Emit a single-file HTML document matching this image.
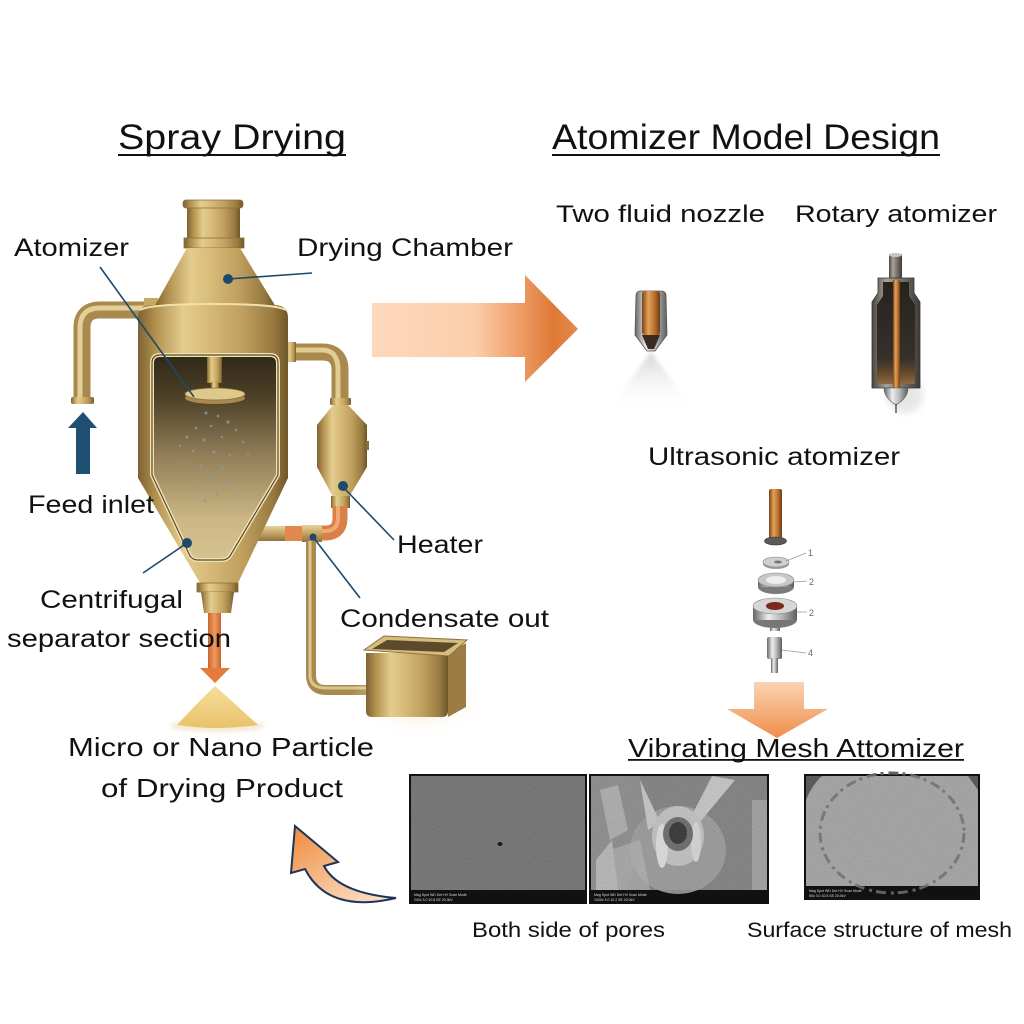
<!DOCTYPE html>
<html><head><meta charset="utf-8"><style>
html,body{margin:0;padding:0;background:#fff}
svg{display:block}
text{font-family:"Liberation Sans",sans-serif;fill:#111}
</style></head><body>
<svg width="1024" height="1024" viewBox="0 0 1024 1024" xmlns="http://www.w3.org/2000/svg">
<defs>
<linearGradient id="brass" x1="0" x2="1" y1="0" y2="0">
<stop offset="0" stop-color="#7d6232"/><stop offset=".12" stop-color="#b3924f"/><stop offset=".3" stop-color="#e3cc8e"/><stop offset=".45" stop-color="#d9bd7a"/><stop offset=".7" stop-color="#bf9f5e"/><stop offset=".9" stop-color="#987a40"/><stop offset="1" stop-color="#6e5628"/>
</linearGradient>
<linearGradient id="brassV" x1="0" x2="0" y1="0" y2="1">
<stop offset="0" stop-color="#e6d29a"/><stop offset=".5" stop-color="#c4a462"/><stop offset="1" stop-color="#8e7240"/>
</linearGradient>
<linearGradient id="win" x1="0" x2="0" y1="0" y2="1">
<stop offset="0" stop-color="#2f2818"/><stop offset=".2" stop-color="#4c3f26"/><stop offset=".5" stop-color="#94805a"/><stop offset=".8" stop-color="#cbb684"/><stop offset="1" stop-color="#d7c390"/>
</linearGradient>
<linearGradient id="bigArrow" x1="0" x2="1" y1="0" y2="0">
<stop offset="0" stop-color="#fdd8bd"/><stop offset=".5" stop-color="#fcceaa"/><stop offset=".62" stop-color="#f5b285"/><stop offset=".88" stop-color="#df7a36"/><stop offset="1" stop-color="#e68a4c"/>
</linearGradient>
<linearGradient id="downArrow" x1="0" x2="0" y1="0" y2="1">
<stop offset="0" stop-color="#fbd3b3"/><stop offset="1" stop-color="#f08e4a"/>
</linearGradient>
<linearGradient id="curveArrow" x1="0" x2="1" y1="0" y2="1">
<stop offset="0" stop-color="#ee8a3c"/><stop offset=".6" stop-color="#f8c49a"/><stop offset="1" stop-color="#fde4cf"/>
</linearGradient>
<linearGradient id="orangeDown" x1="0" x2="1" y1="0" y2="0">
<stop offset="0" stop-color="#c8652e"/><stop offset=".5" stop-color="#ee9a60"/><stop offset="1" stop-color="#c8652e"/>
</linearGradient>
<linearGradient id="copper" x1="0" x2="1" y1="0" y2="0">
<stop offset="0" stop-color="#7a4218"/><stop offset=".35" stop-color="#e3a25a"/><stop offset=".7" stop-color="#b8702e"/><stop offset="1" stop-color="#6e3a14"/>
</linearGradient>
<linearGradient id="metal" x1="0" x2="1" y1="0" y2="0">
<stop offset="0" stop-color="#666"/><stop offset=".35" stop-color="#eee"/><stop offset=".65" stop-color="#b5b5b5"/><stop offset="1" stop-color="#5e5e5e"/>
</linearGradient>
<linearGradient id="darkMetal" x1="0" x2="1" y1="0" y2="0">
<stop offset="0" stop-color="#4a4540"/><stop offset=".3" stop-color="#a9a39a"/><stop offset=".7" stop-color="#6b6660"/><stop offset="1" stop-color="#3e3a36"/>
</linearGradient>
<linearGradient id="cavity" x1="0" x2="0" y1="0" y2="1">
<stop offset="0" stop-color="#26221e"/><stop offset=".75" stop-color="#35302b"/><stop offset=".9" stop-color="#6a4a2a"/><stop offset="1" stop-color="#8a6a48"/>
</linearGradient>
<linearGradient id="mist" x1="0" x2="0" y1="0" y2="1">
<stop offset="0" stop-color="#cfcfcf" stop-opacity=".9"/><stop offset="1" stop-color="#ffffff" stop-opacity="0"/>
</linearGradient>
<linearGradient id="powder" x1="0" x2="0" y1="0" y2="1">
<stop offset="0" stop-color="#f6df9c"/><stop offset="1" stop-color="#e8c26a"/>
</linearGradient>
<radialGradient id="glow" cx=".5" cy=".5" r=".5">
<stop offset="0" stop-color="#f6dfbd" stop-opacity=".9"/><stop offset="1" stop-color="#ffffff" stop-opacity="0"/>
</radialGradient>
<filter id="grain" x="0" y="0" width="100%" height="100%">
<feTurbulence type="fractalNoise" baseFrequency="0.8" numOctaves="2" seed="4"/>
<feColorMatrix type="matrix" values="0.33 0.33 0.33 0 0  0.33 0.33 0.33 0 0  0.33 0.33 0.33 0 0  0 0 0 0 0.25"/>
</filter>
<filter id="blur2"><feGaussianBlur stdDeviation="2"/></filter>
<filter id="blur4"><feGaussianBlur stdDeviation="4"/></filter>
</defs>

<!-- Titles -->
<text x="118" y="149" font-size="35" textLength="228" lengthAdjust="spacingAndGlyphs">Spray Drying</text>
<rect x="118" y="154" width="228" height="2" fill="#111"/>
<text x="552" y="149" font-size="35" textLength="388" lengthAdjust="spacingAndGlyphs">Atomizer Model Design</text>
<rect x="552" y="154" width="388" height="2" fill="#111"/>

<!-- ============ DRYER ============ -->
<path d="M150,310 L100,310 Q82,310 82,328 L82,399" fill="none" stroke="#a88a4e" stroke-width="17"/>
<path d="M150,308 L100,308 Q80,308 80,328 L80,399" fill="none" stroke="#e4cf96" stroke-width="5"/>
<rect x="71" y="397" width="23" height="7" rx="2" fill="url(#brass)"/>
<rect x="144" y="298" width="14" height="9" fill="#c8a964"/>
<path d="M285,352 L322,352 Q340,352 340,370 L340,400" fill="none" stroke="#a88a4e" stroke-width="17"/>
<path d="M285,350 L322,350 Q338,350 338,370 L338,400" fill="none" stroke="#e2cc92" stroke-width="5"/>
<rect x="286" y="342" width="10" height="20" fill="url(#brass)"/>
<rect x="330" y="398" width="21" height="7" rx="1" fill="url(#brass)"/>

<!-- heater -->
<path d="M333,405 L348,405 L367,425 L317,425 Z" fill="url(#brass)"/>
<rect x="317" y="425" width="50" height="42" fill="url(#brass)"/>
<path d="M317,467 L367,467 L349,497 L333,497 Z" fill="url(#brass)"/>
<rect x="366" y="441" width="3" height="9" fill="#8a6e3a"/>
<rect x="331" y="496" width="19" height="12" fill="url(#brass)"/>
<path d="M340,506 L340,518 Q340,533 325,533 L318,533" fill="none" stroke="#d98048" stroke-width="15"/>
<path d="M338,506 L338,518 Q338,531 325,531 L318,531" fill="none" stroke="#f0a874" stroke-width="4"/>
<rect x="258" y="526" width="28" height="15" fill="url(#brassV)"/>
<rect x="285" y="526" width="17" height="15" fill="#e0884e"/>
<rect x="302" y="525" width="20" height="17" fill="url(#brassV)"/>
<path d="M311,541 L311,675 Q311,690 326,690 L368,690" fill="none" stroke="#a88a4e" stroke-width="10"/>
<path d="M310,541 L310,675 Q310,688 326,688 L368,688" fill="none" stroke="#dcc58a" stroke-width="3"/>

<!-- box -->
<ellipse cx="420" cy="700" rx="70" ry="40" fill="url(#glow)"/>
<path d="M448,653 L466,643 L466,707 L448,717 Z" fill="#9a7c44"/>
<path d="M366,653 L448,653 L448,711 Q448,717 442,717 L372,717 Q366,717 366,711 Z" fill="url(#brass)"/>
<path d="M364,650 L384,636 L467,640 L449,656 Z" fill="#d7bd7c" stroke="#8e7040" stroke-width="1"/>
<path d="M372,649 L387,640 L458,643 L444,652 Z" fill="#5c4a2c"/>

<!-- cap / neck / cone -->
<rect x="187" y="207" width="53" height="32" fill="url(#brass)"/>
<rect x="183" y="200" width="60" height="8" rx="3" fill="url(#brass)" stroke="#8a6e3a" stroke-width=".8"/>
<rect x="184" y="238" width="60" height="10" fill="url(#brass)" stroke="#8a6e3a" stroke-width=".8"/>
<path d="M187,248 L240,248 L276,307 L154,307 Z" fill="url(#brass)"/>
<path d="M138,318 Q138,305 152,305 L274,305 Q288,305 288,318 L288,478 L238,583 L200,583 L138,478 Z" fill="url(#brass)"/>
<path d="M140,310 Q150,304 213,304 Q276,304 286,310" fill="none" stroke="#f0e0ac" stroke-width="2"/>
<rect x="197" y="583" width="41" height="9" fill="url(#brass)" stroke="#8a6e3a" stroke-width=".8"/>
<path d="M201,592 L234,592 L231,613 L204,613 Z" fill="url(#brass)"/>
<path d="M160,355 L270,355 Q278,355 278,363 L278,475 L230,556 Q227,560 222,560 L198,560 Q193,560 190,556 L152,475 L152,363 Q152,355 160,355 Z" fill="url(#win)" stroke="#f0e2b2" stroke-width="4"/>
<path d="M160,355 L270,355 Q278,355 278,363 L278,475 L230,556 Q227,560 222,560 L198,560 Q193,560 190,556 L152,475 L152,363 Q152,355 160,355 Z" fill="none" stroke="#5a4828" stroke-width="1.2"/>
<rect x="207" y="357" width="15" height="26" fill="url(#brass)"/>
<rect x="211" y="382" width="8" height="9" fill="url(#brass)"/>
<ellipse cx="215" cy="398" rx="30" ry="6" fill="#a88a4e"/>
<ellipse cx="215" cy="394" rx="30" ry="6" fill="#dfc88c" stroke="#8a6e3a" stroke-width=".8"/>
<g fill="#7f9cab" opacity=".85">
<circle cx="206" cy="413" r="1.5"/><circle cx="218" cy="416" r="1.3"/><circle cx="228" cy="422" r="1.6"/><circle cx="196" cy="428" r="1.4"/><circle cx="211" cy="426" r="1.2"/><circle cx="236" cy="430" r="1.3"/><circle cx="187" cy="437" r="1.5"/><circle cx="204" cy="440" r="1.6"/><circle cx="222" cy="437" r="1.2"/><circle cx="243" cy="442" r="1.4"/><circle cx="193" cy="451" r="1.3"/><circle cx="214" cy="452" r="1.6"/><circle cx="230" cy="455" r="1.3"/><circle cx="184" cy="462" r="1.2"/><circle cx="201" cy="466" r="1.5"/><circle cx="222" cy="468" r="1.3"/><circle cx="240" cy="465" r="1.2"/><circle cx="209" cy="479" r="1.4"/><circle cx="229" cy="483" r="1.5"/><circle cx="195" cy="487" r="1.2"/><circle cx="217" cy="494" r="1.3"/><circle cx="238" cy="496" r="1.2"/><circle cx="205" cy="501" r="1.4"/><circle cx="180" cy="446" r="1.1"/><circle cx="248" cy="454" r="1.1"/>
</g>
<rect x="208" y="613" width="13" height="56" fill="url(#orangeDown)"/>
<path d="M200,668 L230,668 L215,683 Z" fill="#e47a3c"/>
<ellipse cx="217" cy="726" rx="48" ry="6" fill="#f4ead6" filter="url(#blur2)"/>
<path d="M177,725 Q198,702 215,686 Q233,702 258,725 Q218,731 177,725 Z" fill="url(#powder)"/>

<rect x="76" y="426" width="14" height="48" fill="#1f4f73"/>
<path d="M68,428 L97,428 L83,412 Z" fill="#1f4f73"/>

<g stroke="#1b4a6b" stroke-width="1.6" fill="none">
<line x1="100" y1="267" x2="194" y2="397"/>
<line x1="228" y1="279" x2="312" y2="273"/>
<line x1="343" y1="487" x2="394" y2="540"/>
<line x1="313" y1="537" x2="360" y2="598"/>
<line x1="187" y1="543" x2="143" y2="573"/>
</g>
<g fill="#1b4a6b">
<circle cx="228" cy="279" r="5"/><circle cx="343" cy="486" r="5"/><circle cx="313" cy="537" r="3.5"/><circle cx="187" cy="543" r="5"/>
</g>

<text x="14" y="256" font-size="25" textLength="115" lengthAdjust="spacingAndGlyphs">Atomizer</text>
<text x="297" y="256" font-size="25" textLength="216" lengthAdjust="spacingAndGlyphs">Drying Chamber</text>
<text x="28" y="513" font-size="25" textLength="126" lengthAdjust="spacingAndGlyphs">Feed inlet</text>
<text x="397" y="553" font-size="25" textLength="86" lengthAdjust="spacingAndGlyphs">Heater</text>
<text x="40" y="608" font-size="25" textLength="143" lengthAdjust="spacingAndGlyphs">Centrifugal</text>
<text x="7" y="647" font-size="25" textLength="224" lengthAdjust="spacingAndGlyphs">separator section</text>
<text x="340" y="627" font-size="25" textLength="209" lengthAdjust="spacingAndGlyphs">Condensate out</text>
<text x="68" y="756" font-size="26" textLength="306" lengthAdjust="spacingAndGlyphs">Micro or Nano Particle</text>
<text x="101" y="797" font-size="26" textLength="242" lengthAdjust="spacingAndGlyphs">of Drying Product</text>

<path d="M372,303 L525,303 L525,275 L578,329 L525,382 L525,357 L372,357 Z" fill="url(#bigArrow)"/>

<!-- ============ RIGHT ============ -->
<text x="556" y="222" font-size="24" textLength="209" lengthAdjust="spacingAndGlyphs">Two fluid nozzle</text>
<text x="795" y="222" font-size="24" textLength="202" lengthAdjust="spacingAndGlyphs">Rotary atomizer</text>

<path d="M651,352 L608,410 L694,410 Z" fill="url(#mist)" filter="url(#blur2)"/>
<path d="M636,296 Q636,291 641,291 L661,291 Q666,291 666,296 L667,335 L655,351 L647,351 L635,335 Z" fill="url(#metal)" stroke="#555" stroke-width=".8"/>
<rect x="642" y="291" width="18" height="44" rx="3" fill="url(#copper)"/>
<path d="M642,335 L660,335 L654,349 L648,349 Z" fill="#3a2a20"/>

<ellipse cx="905" cy="395" rx="18" ry="18" fill="#e6e6e6" filter="url(#blur4)"/>
<rect x="889" y="254" width="13" height="25" fill="url(#darkMetal)"/>
<ellipse cx="895.5" cy="255" rx="6.5" ry="2" fill="#c8c4be"/>
<path d="M878,278 L914,278 L914,293 L920,302 L920,388 L872,388 L872,302 L878,293 Z" fill="url(#darkMetal)" stroke="#333" stroke-width=".8"/>
<path d="M883,282 L909,282 L909,296 L915,305 L915,384 L877,384 L877,305 L883,296 Z" fill="url(#cavity)"/>
<rect x="893" y="280" width="7" height="108" fill="url(#copper)"/>
<path d="M884,388 L908,388 Q908,398 896,405 Q884,398 884,388 Z" fill="url(#metal)" stroke="#555" stroke-width=".6"/>
<line x1="896" y1="404" x2="896" y2="413" stroke="#333" stroke-width="1.2"/>

<text x="648" y="465" font-size="25" textLength="252" lengthAdjust="spacingAndGlyphs">Ultrasonic atomizer</text>

<rect x="769" y="489" width="13" height="50" rx="2" fill="url(#copper)"/>
<ellipse cx="775.5" cy="541" rx="11" ry="4" fill="#5a5a5a" stroke="#333" stroke-width=".6"/>
<ellipse cx="776" cy="564" rx="13" ry="5" fill="#9a9a9a"/>
<ellipse cx="776" cy="562" rx="13" ry="5" fill="#cfcfcf" stroke="#888" stroke-width=".6"/>
<ellipse cx="778" cy="562" rx="4" ry="1.5" fill="#777"/>
<ellipse cx="776" cy="587" rx="18" ry="7" fill="#7a7a7a"/>
<rect x="758" y="580" width="36" height="7" fill="url(#metal)"/>
<ellipse cx="776" cy="580" rx="18" ry="7" fill="#c8c8c8" stroke="#888" stroke-width=".6"/>
<ellipse cx="776" cy="580" rx="10" ry="4" fill="#eee"/>
<rect x="770" y="619" width="10" height="12" fill="url(#metal)"/>
<ellipse cx="775" cy="620" rx="22" ry="8" fill="#777"/>
<rect x="753" y="606" width="44" height="14" fill="url(#metal)"/>
<ellipse cx="775" cy="606" rx="22" ry="8" fill="#d6d6d6" stroke="#888" stroke-width=".6"/>
<ellipse cx="775" cy="606" rx="9" ry="4" fill="#7a2a18"/>
<rect x="767" y="637" width="15" height="22" rx="2" fill="url(#metal)"/>
<rect x="771" y="658" width="7" height="15" fill="url(#metal)"/>
<g stroke="#999" stroke-width=".8">
<line x1="786" y1="561" x2="806" y2="553"/><line x1="794" y1="582" x2="807" y2="581"/><line x1="797" y1="612" x2="807" y2="612"/><line x1="782" y1="650" x2="806" y2="653"/>
</g>
<g font-size="9">
<text x="808" y="556" style="fill:#666">1</text><text x="809" y="585" style="fill:#666">2</text><text x="809" y="616" style="fill:#666">2</text><text x="808" y="656" style="fill:#666">4</text>
</g>

<path d="M754,682 L804,682 L804,709 L828,709 L777,738 L727,709 L754,709 Z" fill="url(#downArrow)"/>

<text x="628" y="757" font-size="26" textLength="336" lengthAdjust="spacingAndGlyphs">Vibrating Mesh Attomizer</text>
<rect x="628" y="759" width="336" height="1.8" fill="#111"/>

<!-- SEM image 1 -->
<rect x="409" y="774" width="178" height="130" fill="#111"/>
<rect x="411" y="776" width="174" height="114" fill="#5f5f5f"/>
<rect x="411" y="776" width="174" height="114" filter="url(#grain)"/>
<ellipse cx="500" cy="844" rx="2.5" ry="2" fill="#1a1a1a"/>
<!-- SEM image 2 -->
<rect x="589" y="774" width="180" height="130" fill="#111"/>
<rect x="591" y="776" width="176" height="114" fill="#707070"/>
<path d="M591,776 L640,776 L650,830 L625,890 L591,890 Z" fill="#7e7e7e"/>
<path d="M600,790 L618,785 L628,830 L610,840 Z" fill="#a5a5a5"/>
<path d="M596,860 L612,840 L618,890 L596,890 Z" fill="#b0b0b0"/>
<ellipse cx="678" cy="850" rx="48" ry="44" fill="#8e8e8e"/>
<path d="M640,780 L660,822 L648,830 Z" fill="#c2c2c2"/>
<path d="M712,776 L735,780 L700,822 L692,815 Z" fill="#c2c2c2"/>
<ellipse cx="678" cy="836" rx="26" ry="30" fill="#bdbdbd"/>
<ellipse cx="662" cy="846" rx="6" ry="22" fill="#dedede"/>
<ellipse cx="696" cy="842" rx="5" ry="20" fill="#d5d5d5"/>
<ellipse cx="678" cy="834" rx="15" ry="17" fill="#555"/>
<ellipse cx="678" cy="833" rx="9" ry="11" fill="#141414"/>
<path d="M610,850 L640,840 L650,890 L600,890 Z" fill="#b0b0b0" opacity=".6"/>
<rect x="752" y="800" width="15" height="90" fill="#959595"/>
<rect x="591" y="776" width="176" height="114" filter="url(#grain)"/>
<!-- SEM image 3 -->
<rect x="804" y="774" width="176" height="126" fill="#111"/>
<rect x="806" y="776" width="172" height="110" fill="#9a9a9a"/>
<path d="M806,776 L822,776 Q812,785 806,800 Z" fill="#3a3a3a"/>
<path d="M968,776 L978,776 L978,790 Z" fill="#3a3a3a"/>
<ellipse cx="892" cy="833" rx="72" ry="60" fill="none" stroke="#626262" stroke-width="3" stroke-dasharray="10 4 3 5"/>
<rect x="806" y="776" width="172" height="110" filter="url(#grain)"/>
<g font-size="3.5">
<text x="414" y="896" style="fill:#ddd">Mag   Spot   WD   Det          HV    Scan    Mode</text>
<text x="414" y="901" style="fill:#ddd">200x   3.0   10.8   SE   20.0kV</text>
<text x="594" y="896" style="fill:#ddd">Mag   Spot   WD   Det          HV    Scan    Mode</text>
<text x="594" y="901" style="fill:#ddd">1000x   3.0   10.2   SE   20.0kV</text>
<text x="809" y="892" style="fill:#ddd">Mag   Spot   WD   Det          HV    Scan    Mode</text>
<text x="809" y="897" style="fill:#ddd">50x   3.0   10.5   SE   20.0kV</text>
</g>

<text x="472" y="937" font-size="21" textLength="193" lengthAdjust="spacingAndGlyphs">Both side of pores</text>
<text x="747" y="937" font-size="21" textLength="265" lengthAdjust="spacingAndGlyphs">Surface structure of mesh</text>

<path d="M295,826 L338,862 L324,866 Q338,893 396,898 Q328,914 305,869 L291,873 Z" fill="url(#curveArrow)" stroke="#1b3556" stroke-width="2" stroke-linejoin="miter"/>
</svg>
</body></html>
